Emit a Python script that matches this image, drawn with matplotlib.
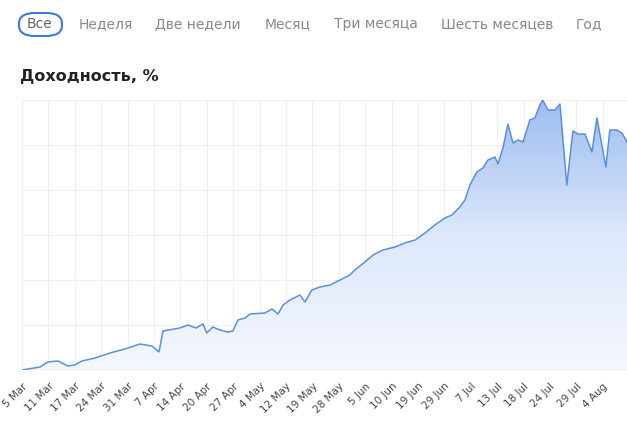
import numpy as np
import matplotlib
matplotlib.use("Agg")
import matplotlib.pyplot as plt
import matplotlib.transforms as mtransforms
from matplotlib.patches import FancyBboxPatch, Polygon
from matplotlib.colors import LinearSegmentedColormap

tick_labels = ["5 Mar","11 Mar","17 Mar","24 Mar","31 Mar","7 Apr","14 Apr","20 Apr","27 Apr",
               "4 May","12 May","19 May","28 May","5 Jun","10 Jun","19 Jun","29 Jun","7 Jul",
               "13 Jul","18 Jul","24 Jul","29 Jul","4 Aug"]
pos = [0,.68,.98,1.36,1.74,2.0,2.27,2.77,3.33,3.9,4.47,4.92,5.19,5.34,5.98,6.29,6.59,6.86,7.0,7.23,
       7.5,7.8,7.99,8.18,8.45,8.64,9.2,9.47,9.7,9.89,10.15,10.53,10.72,10.98,11.29,11.67,12.05,12.42,
       12.61,12.99,13.3,13.67,14.13,14.5,14.89,15.27,15.64,16.02,16.29,16.59,16.78,16.97,17.23,17.46,
       17.65,17.92,18.03,18.22,18.41,18.6,18.79,18.98,19.24,19.43,19.62,19.73,19.92,20.19,20.38,20.64,
       20.87,21.06,21.33,21.59,21.78,22.12,22.27,22.54,22.73,22.92]
ypix = [370,367,362,361,366,365,361,358,353,349,344,346,352,331,328,325,328,324,333,327,330,332,331,
        320,318,314,313,309,314,305,300,295,302,290,287,285,280,275,270,262,255,250,247,243,240,233,
        225,218,215,207,200,185,172,168,160,157,164,148,124,143,140,142,120,118,105,100,110,110,104,185,
        131,134,134,152,118,167,130,130,133,142]
vals = [(370 - y) / 45 for y in ypix]

fig = plt.figure(figsize=(6.27, 4.26), dpi=100)
ax = fig.add_axes([22/627, 56/426, 605/627, 270/426])
x = np.array(pos); y = np.array(vals)
ax.set_xlim(0, 22.92); ax.set_ylim(0, 6)
grad = np.linspace(0, 1, 256).reshape(-1, 1)
cmap = LinearSegmentedColormap.from_list("g", ["#f4f7fe", "#dde8fb", "#9dbdf0"])
im = ax.imshow(grad, extent=[0, 22.92, 0, 6], origin="lower", aspect="auto", cmap=cmap, zorder=1)
poly = Polygon(np.column_stack([np.r_[x[0], x, x[-1]], np.r_[0, y, 0]]), closed=True,
               transform=ax.transData, facecolor="none", edgecolor="none")
ax.add_patch(poly)
im.set_clip_path(poly)
ax.plot(x, y, color="#5b8fdc", lw=1.1, zorder=3)
ax.axhline(0, color="#d9b8bd", lw=1, zorder=4)
ax.set_xticks(range(len(tick_labels)))
ax.set_xticklabels(tick_labels, rotation=45, ha="right", va="top", rotation_mode="anchor",
                   fontsize=7.5, color="#444444")
offset = mtransforms.ScaledTranslation(18/100, 0, fig.dpi_scale_trans)
for lbl in ax.get_xticklabels():
    lbl.set_transform(lbl.get_transform() + offset)
ax.set_yticks(range(7)); ax.set_yticklabels([])
ax.tick_params(length=0, pad=8)
ax.grid(True, color="#efefef", lw=0.8, zorder=0)
ax.set_axisbelow(True)
for s in ax.spines.values(): s.set_visible(False)

fig.text(20/627, 1-77/426, "Доходность, %", fontsize=11.5, fontweight="bold", color="#222222", va="center")
tabs = [("Все", 40), ("Неделя", 106), ("Две недели", 198), ("Месяц", 288), ("Три месяца", 376),
        ("Шесть месяцев", 497), ("Год", 589)]
for t, cx in tabs:
    fig.text(cx/627, 1-24/426, t, fontsize=10, color="#888888" if t != "Все" else "#666666",
             ha="center", va="center")
box = FancyBboxPatch((19/627, 1-36/426), 43/627, 23/426, boxstyle="round,pad=0,rounding_size=0.025",
                     transform=fig.transFigure, facecolor="none", edgecolor="#3d7ad6", lw=1.5)
fig.patches.append(box)
fig.savefig("out.png", dpi=100)
